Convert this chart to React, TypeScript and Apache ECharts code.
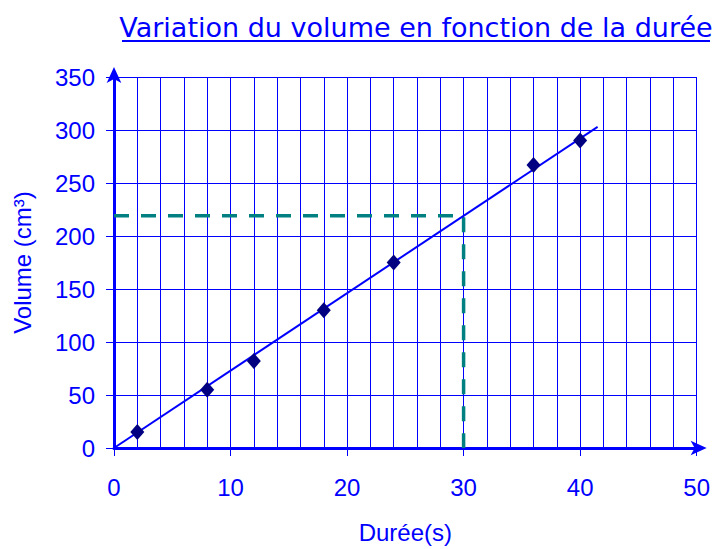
import React, { useEffect, useRef } from "react";
import * as echarts from "echarts";

const titleText = "Variation du volume en fonction de la durée";
const xName = "Durée(s)";
const yName = "Volume (cm³)";
const durations = [2, 8, 12, 18, 24, 36, 40];
const volumes = [15, 55, 82, 130, 175, 267, 290];
const trendLine = [
  [0, 0],
  [41.5, 303],
];
const readLine = [
  [0, 219],
  [30, 219],
  [30, 0],
];

const BLUE = "#0000FF";
const FONT = "'Liberation Sans', Arial, sans-serif";

export default function App() {
  const ref = useRef<HTMLDivElement>(null);
  useEffect(() => {
    const chart = echarts.init(ref.current!, null, { renderer: "svg" });
    chart.setOption({
      animation: false,
      backgroundColor: "#fff",
      graphic: [
        {
          type: "text",
          x: 416,
          y: 27,
          style: {
            text: titleText,
            fill: BLUE,
            font: "27px 'DejaVu Sans', sans-serif",
            align: "center",
            verticalAlign: "middle",
          },
        },
        {
          type: "line",
          shape: { x1: 122, y1: 41, x2: 710, y2: 41 },
          style: { stroke: BLUE, lineWidth: 2 },
        },
      ],
      grid: { left: 114, top: 77, right: 16, bottom: 97, containLabel: false },
      xAxis: {
        type: "value",
        min: 0,
        max: 50,
        interval: 10,
        name: xName,
        nameLocation: "middle",
        nameGap: 72,
        nameTextStyle: { color: BLUE, fontSize: 24, fontFamily: FONT },
        axisLine: {
          onZero: false,
          lineStyle: { color: BLUE, width: 3 },
          symbol: ["none", "arrow"],
          symbolSize: [11, 16],
          symbolOffset: [0, 10],
        },
        axisTick: { show: true, length: 8, inside: false, lineStyle: { color: BLUE, width: 1 } },
        axisLabel: { color: BLUE, fontSize: 24, fontFamily: FONT, margin: 27 },
        splitLine: { show: true, lineStyle: { color: BLUE, width: 1 } },
        minorTick: { show: false, splitNumber: 5 },
        minorSplitLine: { show: true, lineStyle: { color: BLUE, width: 1 } },
      },
      yAxis: {
        type: "value",
        min: 0,
        max: 350,
        interval: 50,
        name: yName,
        nameLocation: "middle",
        nameGap: 80,
        nameTextStyle: { color: BLUE, fontSize: 24, fontFamily: FONT },
        axisLine: {
          show: true,
          onZero: false,
          lineStyle: { color: BLUE, width: 3 },
          symbol: ["none", "arrow"],
          symbolSize: [11, 16],
          symbolOffset: [0, 10],
        },
        axisTick: { show: true, length: 8, lineStyle: { color: BLUE, width: 1 } },
        axisLabel: { color: BLUE, fontSize: 24, fontFamily: FONT, margin: 19 },
        splitLine: { show: true, lineStyle: { color: BLUE, width: 1 } },
      },
      series: [
        {
          type: "line",
          data: readLine,
          symbol: "none",
          lineStyle: { color: "#008080", width: 3.5, type: [15, 12] },
          z: 3,
        },
        {
          type: "line",
          data: trendLine,
          symbol: "none",
          lineStyle: { color: BLUE, width: 2 },
          z: 4,
        },
        {
          type: "scatter",
          data: durations.map((d, i) => [d, volumes[i]]),
          symbol: "diamond",
          symbolSize: [14, 16],
          itemStyle: { color: "#000080", opacity: 1 },
          z: 5,
        },
      ],
    });
    return () => chart.dispose();
  }, []);
  return (
    <div
      ref={ref}
      style={{ position: "fixed", left: 0, top: 0, width: 713, height: 549 }}
    />
  );
}
